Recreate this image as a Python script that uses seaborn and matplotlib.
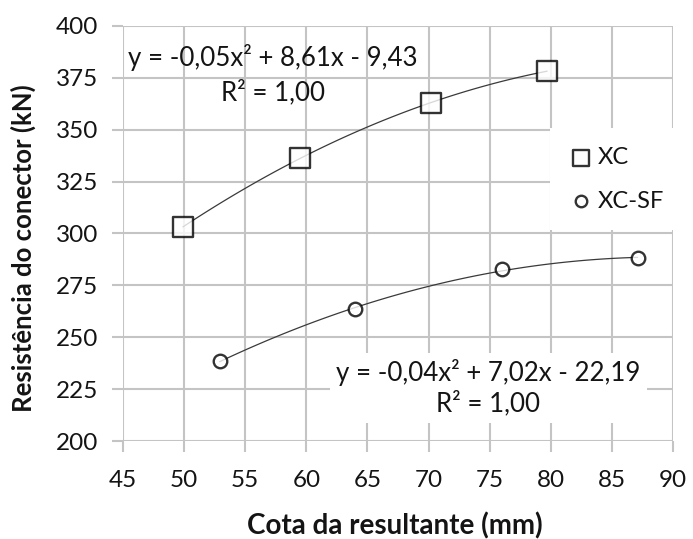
import matplotlib
matplotlib.use("Agg")
import matplotlib.pyplot as plt
import seaborn as sns
import pandas as pd

# Data
xc_x = [49.9, 59.5, 70.2, 79.7]
xc_y = [303.1, 336.4, 362.9, 378.3]
sf_x = [52.9, 64.0, 76.0, 87.1]
sf_y = [238.5, 263.5, 282.8, 288.2]
series_names = ["XC", "XC-SF"]
eq_xc = ["y = -0,05x² + 8,61x - 9,43", "R² = 1,00"]
eq_sf = "y = -0,04x² + 7,02x - 22,19\nR² = 1,00"
xticks = [45, 50, 55, 60, 65, 70, 75, 80, 85, 90]
yticks = [200, 225, 250, 275, 300, 325, 350, 375, 400]

sns.set_theme(style="white")
plt.rcParams['font.family'] = ['Lato', 'DejaVu Sans']

fig = plt.figure(figsize=(6.93, 5.39), dpi=100)
ax = fig.add_axes([0.1775, 0.1818, 0.7937, 0.77])

df_xc = pd.DataFrame({"x": xc_x, "y": xc_y})
df_sf = pd.DataFrame({"x": sf_x, "y": sf_y})

TXT = "#141414"
line_kws = dict(color="#3a3a3a", lw=0.9, zorder=3)
sns.regplot(data=df_xc, x="x", y="y", order=2, ci=None, ax=ax, label=series_names[0],
            marker="s", scatter_kws=dict(s=200, facecolor="white", edgecolor="black",
                                         linewidths=1.7, zorder=4),
            line_kws=line_kws)
sns.regplot(data=df_sf, x="x", y="y", order=2, ci=None, ax=ax, label=series_names[1],
            marker="o", scatter_kws=dict(s=95, facecolor="white", edgecolor="black",
                                         linewidths=1.7, zorder=4),
            line_kws=line_kws)

ax.set_xlim(45, 90)
ax.set_ylim(200, 400)
ax.set_xticks(xticks)
ax.set_yticks(yticks)
ax.grid(True, color="#c4c4c4", lw=1.5)
ax.set_axisbelow(True)
for s in ax.spines.values():
    s.set_visible(False)
ax.tick_params(axis="both", which="major", length=8, width=1.5, color="#c4c4c4",
               labelsize=17.5, labelcolor=TXT, direction="out",
               bottom=True, left=True)
ax.tick_params(axis="x", pad=13)
ax.tick_params(axis="y", pad=10)

ax.set_xlabel("Cota da resultante (mm)", fontsize=20, fontweight="bold", color=TXT)
ax.set_ylabel("Resistência do conector (kN)", fontsize=18.5, fontweight="bold", color=TXT)
ax.xaxis.set_label_coords(0.495, -0.171)
ax.yaxis.set_label_coords(-0.158, 0.465)

ax.text(0.273, 0.923, eq_xc[0], transform=ax.transAxes, ha="center", va="center",
        fontsize=18.6, color=TXT, zorder=5)
ax.text(0.273, 0.8386, eq_xc[1], transform=ax.transAxes, ha="center", va="center",
        fontsize=18.6, color=TXT, zorder=5)
ax.text(0.664, 0.128, eq_sf, transform=ax.transAxes, ha="center", va="center",
        fontsize=18.6, color=TXT, linespacing=1.2, zorder=5,
        bbox=dict(boxstyle="square,pad=0.25", facecolor="white", edgecolor="none"))

leg = ax.legend(loc="upper left", bbox_to_anchor=(0.767, 0.765), frameon=True,
                fontsize=17, handletextpad=0.15, handlelength=1.1, labelspacing=0.95,
                borderpad=0.5, markerscale=0.85)
leg.get_frame().set_facecolor("white")
leg.get_frame().set_edgecolor("none")
leg.get_frame().set_alpha(1)
leg.get_frame().set_boxstyle("square")
for t in leg.get_texts():
    t.set_color(TXT)

fig.savefig("out.png", dpi=100)
